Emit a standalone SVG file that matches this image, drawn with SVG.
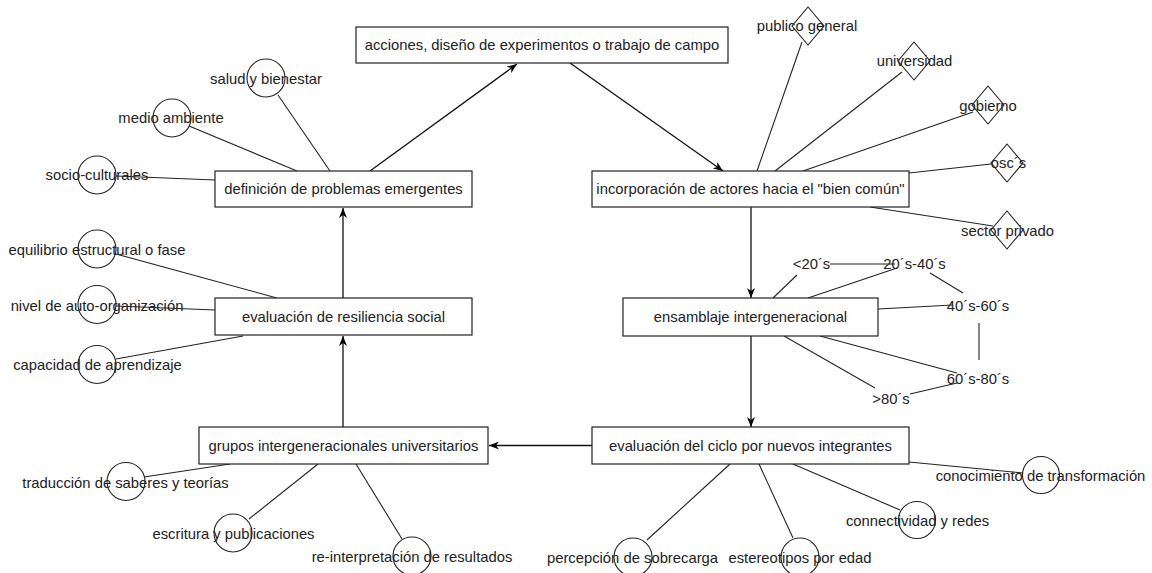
<svg xmlns="http://www.w3.org/2000/svg" width="1152" height="573" viewBox="0 0 1152 573">
<style>
text{font-family:"Liberation Sans",Arial,sans-serif;font-size:14.8px;fill:#222;text-anchor:middle;dominant-baseline:central}
.box{fill:#fff;stroke:#222;stroke-width:1.2}
.c{fill:none;stroke:#222;stroke-width:1.1}
.e{fill:none;stroke:#222;stroke-width:1.1}
.a{fill:none;stroke:#111;stroke-width:1.3;marker-end:url(#arr)}
</style>
<defs>
<marker id="arr" viewBox="0 0 10 8" refX="10" refY="4" markerWidth="10" markerHeight="8" orient="auto" markerUnits="userSpaceOnUse">
<path d="M0,0 L10,4 L0,8 L3,4 Z" fill="#000"/>
</marker>
</defs>
<rect width="1152" height="573" fill="#fff"/>
<g id="connectors">
<line class="a" x1="370" y1="171" x2="517" y2="64"/>
<line class="a" x1="570" y1="63" x2="723" y2="171"/>
<line class="a" x1="751" y1="207" x2="751" y2="298"/>
<line class="a" x1="751" y1="336" x2="751" y2="427"/>
<line class="a" x1="592" y1="445.5" x2="489" y2="445.5"/>
<line class="a" x1="343" y1="427" x2="343" y2="336"/>
<line class="a" x1="343" y1="298" x2="343" y2="208"/>
<line class="e" x1="278" y1="95" x2="330" y2="171"/>
<line class="e" x1="189" y1="126" x2="297" y2="171"/>
<line class="e" x1="116" y1="176" x2="215" y2="180"/>
<line class="e" x1="116" y1="254" x2="277" y2="298"/>
<line class="e" x1="116" y1="306" x2="215" y2="310"/>
<line class="e" x1="116" y1="359" x2="243" y2="336"/>
<line class="e" x1="144" y1="477" x2="230" y2="464"/>
<line class="e" x1="249" y1="519" x2="318" y2="464"/>
<line class="e" x1="402" y1="539" x2="356" y2="464"/>
<line class="e" x1="647" y1="540" x2="730" y2="464"/>
<line class="e" x1="793" y1="538" x2="759" y2="464"/>
<line class="e" x1="900" y1="510" x2="793" y2="464"/>
<line class="e" x1="1023" y1="473" x2="909" y2="462"/>
<line class="e" x1="802" y1="42" x2="757" y2="171"/>
<line class="e" x1="902" y1="72" x2="775" y2="171"/>
<line class="e" x1="973" y1="112" x2="803" y2="171"/>
<line class="e" x1="991" y1="164" x2="909" y2="173"/>
<line class="e" x1="870" y1="207" x2="993" y2="226"/>
<line class="e" x1="773" y1="298" x2="797" y2="275"/>
<line class="e" x1="830" y1="264" x2="895" y2="264"/>
<line class="e" x1="808" y1="298" x2="897" y2="268"/>
<line class="e" x1="930" y1="273" x2="963" y2="293"/>
<line class="e" x1="878" y1="309" x2="953" y2="305"/>
<line class="e" x1="979" y1="323" x2="979" y2="360"/>
<line class="e" x1="820" y1="336" x2="957" y2="373"/>
<line class="e" x1="784" y1="336" x2="875" y2="388"/>
<line class="e" x1="910" y1="394" x2="957" y2="383"/>
</g>
<g id="n-acciones"><rect class="box" x="356" y="27" width="372" height="36"/><text x="542" y="45">acciones, diseño de experimentos o trabajo de campo</text></g>
<g id="n-definicion"><rect class="box" x="215" y="171" width="257" height="36"/><text x="343.5" y="189">definición de problemas emergentes</text></g>
<g id="n-incorporacion"><rect class="box" x="592" y="171" width="317" height="36"/><text x="750.5" y="189">incorporación de actores hacia el "bien común"</text></g>
<g id="n-resiliencia"><rect class="box" x="215" y="298" width="257" height="37"/><text x="343.5" y="317">evaluación de resiliencia social</text></g>
<g id="n-ensamblaje"><rect class="box" x="623" y="298" width="255" height="38"/><text x="750.5" y="317">ensamblaje intergeneracional</text></g>
<g id="n-grupos"><rect class="box" x="199" y="427" width="289" height="37"/><text x="343.5" y="445.5">grupos intergeneracionales universitarios</text></g>
<g id="n-ciclo"><rect class="box" x="592" y="427" width="317" height="37"/><text x="750.5" y="445.5">evaluación del ciclo por nuevos integrantes</text></g>
<g id="c-salud"><circle class="c" cx="266" cy="78" r="19"/><text x="266" y="79">salud y bienestar</text></g>
<g id="c-medio"><circle class="c" cx="172" cy="118" r="19"/><text x="171" y="118">medio ambiente</text></g>
<g id="c-socio"><circle class="c" cx="97" cy="175" r="19"/><text x="97" y="175">socio-culturales</text></g>
<g id="c-equilibrio"><circle class="c" cx="97" cy="249" r="19"/><text x="97" y="250">equilibrio estructural o fase</text></g>
<g id="c-nivel"><circle class="c" cx="97" cy="304.5" r="19"/><text x="97" y="305.5">nivel de auto-organización</text></g>
<g id="c-capacidad"><circle class="c" cx="97" cy="364.5" r="19"/><text x="97.5" y="365">capacidad de aprendizaje</text></g>
<g id="c-traduccion"><circle class="c" cx="126" cy="481.5" r="19"/><text x="125.5" y="482.5">traducción de saberes y teorías</text></g>
<g id="c-escritura"><circle class="c" cx="233" cy="533" r="19"/><text x="233.5" y="533.5">escritura y publicaciones</text></g>
<g id="c-reinterpretacion"><circle class="c" cx="412" cy="556" r="19"/><text x="412" y="556.5">re-interpretación de resultados</text></g>
<g id="c-percepcion"><circle class="c" cx="633" cy="557" r="19"/><text x="632.5" y="557.5">percepción de sobrecarga</text></g>
<g id="c-estereotipos"><circle class="c" cx="800" cy="557" r="19"/><text x="800" y="557.5">estereotipos por edad</text></g>
<g id="c-connectividad"><circle class="c" cx="917" cy="520" r="18.5"/><text x="917.5" y="521">connectividad y redes</text></g>
<g id="c-conocimiento"><circle class="c" cx="1041" cy="475" r="18.5"/><text x="1040.5" y="475.5">conocimiento de transformación</text></g>
<g id="d-publico"><path class="c" d="M808,7 L824,26 L808,45 L792,26 Z"/><text x="807" y="26">publico general</text></g>
<g id="d-universidad"><path class="c" d="M914,42 L930,61 L914,80 L898,61 Z"/><text x="914.5" y="61">universidad</text></g>
<g id="d-gobierno"><path class="c" d="M988,86 L1004,105 L988,124 L972,105 Z"/><text x="988" y="106">gobierno</text></g>
<g id="d-osc"><path class="c" d="M1007,144 L1023,163 L1007,182 L991,163 Z"/><text x="1008.5" y="163">osc´s</text></g>
<g id="d-sector"><path class="c" d="M1007,211 L1023,230 L1007,249 L991,230 Z"/><text x="1007.5" y="231">sector privado</text></g>
<g id="t-lt20"><text x="811.5" y="264">&lt;20´s</text></g>
<g id="t-20-40"><text x="914.5" y="264">20´s-40´s</text></g>
<g id="t-40-60"><text x="978" y="306">40´s-60´s</text></g>
<g id="t-60-80"><text x="978" y="379">60´s-80´s</text></g>
<g id="t-gt80"><text x="891" y="399">&gt;80´s</text></g>
</svg>
